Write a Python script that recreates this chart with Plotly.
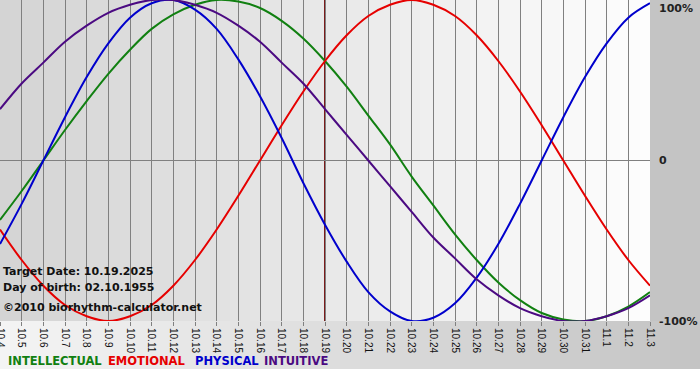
import plotly.graph_objects as go

dates = ["10.4", "10.5", "10.6", "10.7", "10.8", "10.9", "10.10", "10.11", "10.12",
         "10.13", "10.14", "10.15", "10.16", "10.17", "10.18", "10.19", "10.20",
         "10.21", "10.22", "10.23", "10.24", "10.25", "10.26", "10.27", "10.28",
         "10.29", "10.30", "10.31", "11.1", "11.2", "11.3"]

physical = [-0.52, -0.27, 0.00, 0.27, 0.52, 0.73, 0.89, 0.98, 1.00, 0.94, 0.82,
            0.63, 0.40, 0.14, -0.14, -0.40, -0.63, -0.82, -0.94, -1.00, -0.98,
            -0.89, -0.73, -0.52, -0.27, 0.00, 0.27, 0.52, 0.73, 0.89, 0.98]

emotional = [-0.43, -0.62, -0.78, -0.90, -0.97, -1.00, -0.97, -0.90, -0.78, -0.62,
             -0.43, -0.22, 0.00, 0.22, 0.43, 0.62, 0.78, 0.90, 0.97, 1.00, 0.97,
             0.90, 0.78, 0.62, 0.43, 0.22, 0.00, -0.22, -0.43, -0.62, -0.78]

intellectual = [-0.37, -0.19, 0.00, 0.19, 0.37, 0.54, 0.69, 0.82, 0.91, 0.97, 1.00,
                0.99, 0.95, 0.87, 0.76, 0.62, 0.46, 0.28, 0.10, -0.10, -0.28, -0.46,
                -0.62, -0.76, -0.87, -0.95, -0.99, -1.00, -0.97, -0.91, -0.82]

intuitive = [0.32, 0.48, 0.61, 0.74, 0.84, 0.92, 0.97, 1.00, 1.00, 0.97, 0.92, 0.84,
             0.74, 0.61, 0.48, 0.32, 0.16, 0.00, -0.16, -0.32, -0.48, -0.61, -0.74,
             -0.84, -0.92, -0.97, -1.00, -1.00, -0.97, -0.92, -0.84]

y_tick_vals = [1, 0, -1]
y_tick_text = ["100%", "0", "-100%"]
target_date = "10.19"
info_lines = ["Target Date: 10.19.2025", "Day of birth: 02.10.1955",
              "©2010 biorhythm-calculator.net"]
legend_names = ["INTELLECTUAL", "EMOTIONAL", "PHYSICAL", "INTUITIVE"]

COL = {"INTELLECTUAL": "#118011", "EMOTIONAL": "#e60000",
       "PHYSICAL": "#0000cc", "INTUITIVE": "#4b0a82"}
FONT = "Verdana, DejaVu Sans, sans-serif"

fig = go.Figure()
series = [("INTELLECTUAL", intellectual), ("EMOTIONAL", emotional),
          ("PHYSICAL", physical), ("INTUITIVE", intuitive)]
for name, vals in series:
    fig.add_trace(go.Scatter(x=dates, y=vals, mode="lines", name=name,
                             line=dict(color=COL[name], width=2, shape="spline"),
                             showlegend=False, hoverinfo="skip"))

shapes = []
# plot-area gradient (dark left -> white right)
n = 65
for i in range(n):
    t = i / (n - 1)
    g = int(round(212 + (253 - 212) * t))
    c = f"rgb({g},{g},{g})"
    shapes.append(dict(type="rect", xref="paper", yref="paper",
                       x0=i / n, x1=(i + 1) / n + 0.002, y0=0, y1=1,
                       fillcolor=c, line=dict(width=0), layer="below"))
# right margin gray
shapes.append(dict(type="rect", xref="paper", yref="paper", x0=1, x1=1.08,
                   y0=0, y1=1, fillcolor="#c4c4c4", line=dict(width=0), layer="below"))
# bottom band gradient (light left -> gray right)
plot_h = 321.0
band_bottom = -(369 - 321) / plot_h
m = 70
for i in range(m):
    t = i / (m - 1)
    g = int(round(244 + (196 - 244) * t))
    c = f"rgb({g},{g},{g})"
    shapes.append(dict(type="rect", xref="paper", yref="paper",
                       x0=i / m * (700 / 650), x1=(i + 1) / m * (700 / 650) + 0.002,
                       y0=band_bottom, y1=0,
                       fillcolor=c, line=dict(width=0), layer="below"))
# target-date vertical line
ti = dates.index(target_date)
shapes.append(dict(type="line", xref="x", yref="paper", x0=ti, x1=ti,
                   y0=0, y1=1, line=dict(color="#7a1a1a", width=2), layer="between"))

annotations = []
for v, txt in zip(y_tick_vals, y_tick_text):
    yy = {1: 1 - 8 / plot_h, 0: 0.5, -1: 0}[v]
    annotations.append(dict(text=f"<b>{txt}</b>", xref="paper", yref="paper",
                            x=1, y=yy, xanchor="left", yanchor="middle", xshift=7,
                            showarrow=False,
                            font=dict(family=FONT, size=11, color="#222222")))
for k, line in enumerate(info_lines):
    ypx = [271, 287, 307][k]
    annotations.append(dict(text=f"<b>{line}</b>", xref="paper", yref="paper",
                            x=0, y=(plot_h - ypx) / plot_h, xanchor="left",
                            yanchor="middle", xshift=1, showarrow=False,
                            font=dict(family=FONT, size=11, color="#111111")))
leg_x = [6, 106, 193, 262]
for name, xp in zip(legend_names, leg_x):
    annotations.append(dict(text=f"<b>{name}</b>", xref="paper", yref="paper",
                            x=xp / 650, y=(plot_h - 361) / plot_h, xanchor="left",
                            yanchor="middle", showarrow=False,
                            font=dict(family=FONT, size=11.5, color=COL[name])))

fig.update_layout(
    width=700, height=380,
    margin=dict(l=0, r=50, t=0, b=59, pad=0),
    paper_bgcolor="white", plot_bgcolor="#e8e8e8",
    shapes=shapes, annotations=annotations,
    xaxis=dict(type="category", range=[0, 30], tickangle=90,
               tickfont=dict(family="Liberation Sans, Arial, sans-serif", size=10,
                             color="#111111"),
               ticks="outside", ticklen=4, tickcolor="#808080",
               showgrid=True, gridcolor="#808080", gridwidth=1,
               showline=False, zeroline=False, automargin=False, fixedrange=True),
    yaxis=dict(range=[-1, 1], tickvals=y_tick_vals, showticklabels=False,
               showgrid=True, gridcolor="#808080", gridwidth=1,
               zeroline=False, showline=False, automargin=False, fixedrange=True),
)

fig.write_html("out.html", config={"displayModeBar": False},
               post_script="document.body.style.margin='0';document.body.style.padding='0';")
